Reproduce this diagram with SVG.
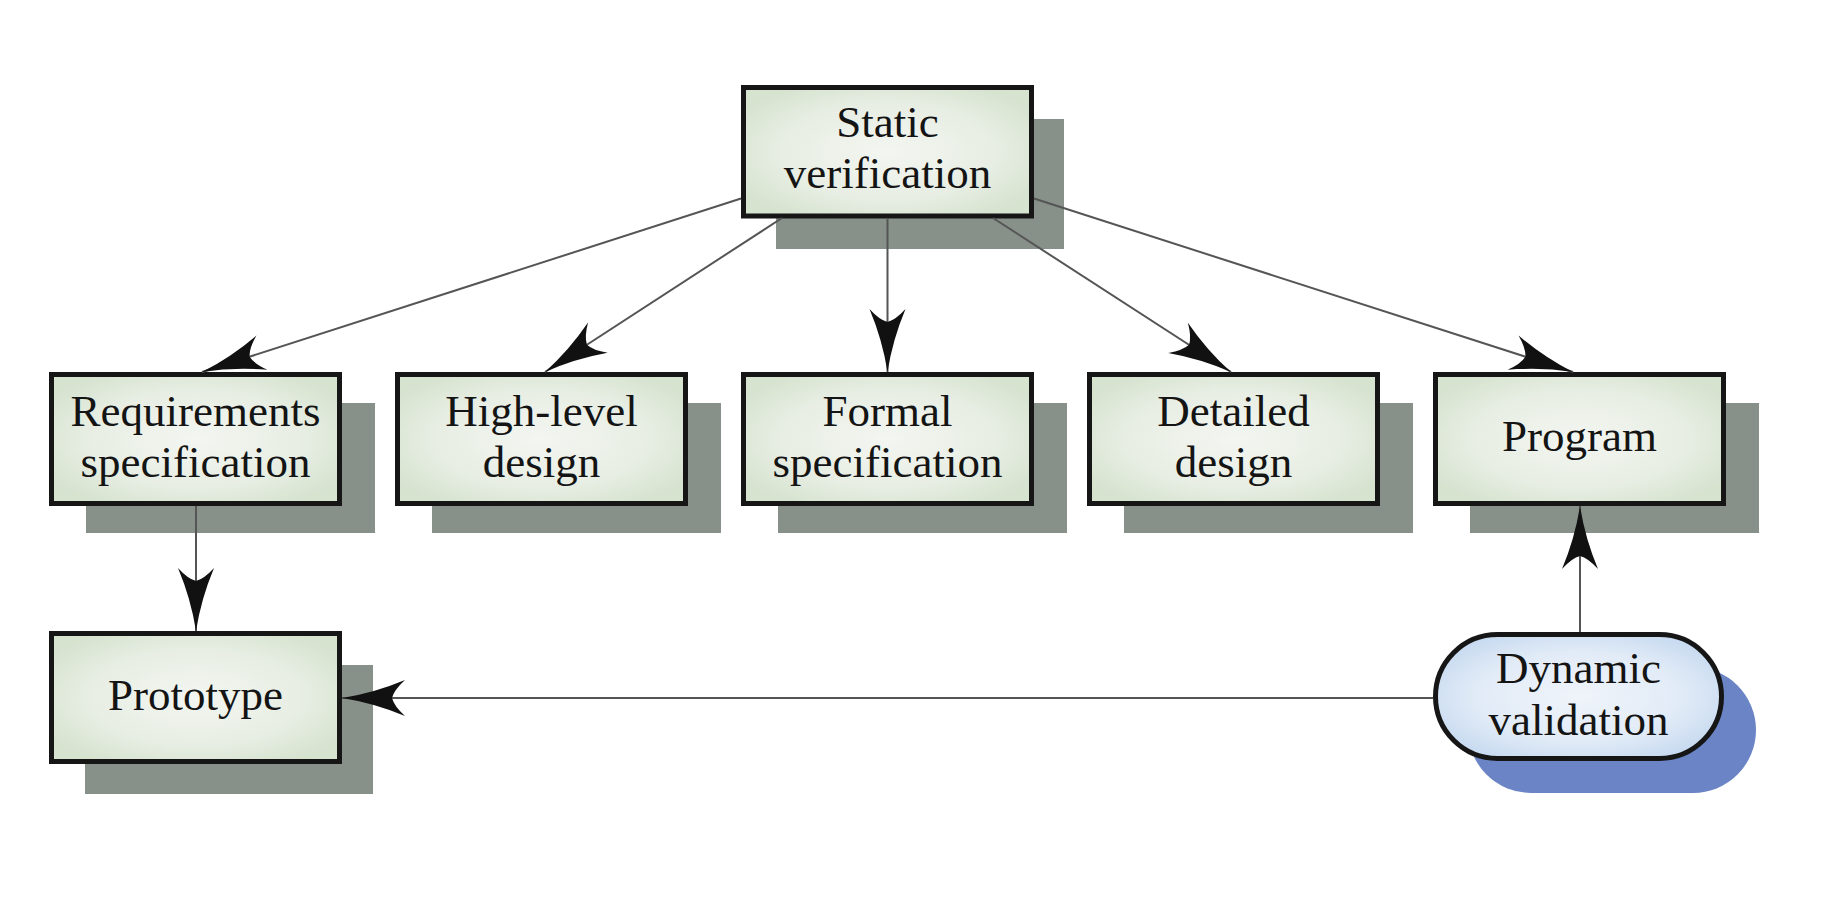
<svg xmlns="http://www.w3.org/2000/svg" width="1831" height="897" viewBox="0 0 1831 897">
<style>
.box{fill:url(#gGreen);stroke:#161616;stroke-width:5}
.pill{fill:url(#gBlue);stroke:#161616;stroke-width:5}
.sh{fill:#879089}
.shb{fill:#6a84c6}
.t{font-family:"Liberation Serif","Times New Roman",serif;font-size:45px;fill:#141414;text-anchor:middle}
.c{fill:none;stroke:#555;stroke-width:2;marker-end:url(#ah)}
</style>
<defs>
<radialGradient id="gGreen" cx="0.5" cy="0.5" r="0.6">
<stop offset="0" stop-color="#f3f6f1"/>
<stop offset="0.6" stop-color="#e8eee4"/>
<stop offset="1" stop-color="#d6e3cf"/>
</radialGradient>
<radialGradient id="gBlue" cx="0.5" cy="0.5" r="0.6">
<stop offset="0" stop-color="#f0f4fa"/>
<stop offset="0.6" stop-color="#e1ebf7"/>
<stop offset="1" stop-color="#c4d8ef"/>
</radialGradient>
<marker id="ah" markerUnits="userSpaceOnUse" markerWidth="70" markerHeight="40" viewBox="-66 -20 70 40" refX="0" refY="0" orient="auto" overflow="visible">
<path d="M0,0 Q-32,-5 -63,-18 Q-52,-8 -50,0 Q-52,8 -63,18 Q-32,5 0,0Z" fill="#111"/>
</marker>
</defs>
<rect width="1831" height="897" fill="#fff"/>

<g id="static">
<rect class="sh" x="776" y="119" width="288" height="130"/>
<rect class="box" x="743.5" y="87.5" width="288" height="128.5"/>
<text class="t" x="887.5" y="137">Static</text>
<text class="t" x="887.5" y="188">verification</text>
</g>

<g id="requirements">
<rect class="sh" x="86" y="403" width="289" height="130"/>
<rect class="box" x="51.5" y="374.5" width="288" height="129"/>
<text class="t" x="195.5" y="426">Requirements</text>
<text class="t" x="195.5" y="477">specification</text>
</g>

<g id="highlevel">
<rect class="sh" x="432" y="403" width="289" height="130"/>
<rect class="box" x="397.5" y="374.5" width="288" height="129"/>
<text class="t" x="541.5" y="426">High-level</text>
<text class="t" x="541.5" y="477">design</text>
</g>

<g id="formal">
<rect class="sh" x="778" y="403" width="289" height="130"/>
<rect class="box" x="743.5" y="374.5" width="288" height="129"/>
<text class="t" x="887.5" y="426">Formal</text>
<text class="t" x="887.5" y="477">specification</text>
</g>

<g id="detailed">
<rect class="sh" x="1124" y="403" width="289" height="130"/>
<rect class="box" x="1089.5" y="374.5" width="288" height="129"/>
<text class="t" x="1233.5" y="426">Detailed</text>
<text class="t" x="1233.5" y="477">design</text>
</g>

<g id="program">
<rect class="sh" x="1470" y="403" width="289" height="130"/>
<rect class="box" x="1435.5" y="374.5" width="288" height="129"/>
<text class="t" x="1579.5" y="451">Program</text>
</g>

<g id="prototype">
<rect class="sh" x="85" y="665" width="288" height="129"/>
<rect class="box" x="51.5" y="633.5" width="288" height="128"/>
<text class="t" x="195.5" y="710">Prototype</text>
</g>

<g id="dynamic">
<rect class="shb" x="1468" y="667" width="288" height="126" rx="63" ry="63"/>
<rect class="pill" x="1435.5" y="634.5" width="286" height="124" rx="62" ry="62"/>
<text class="t" x="1578.5" y="683">Dynamic</text>
<text class="t" x="1578.5" y="735">validation</text>
</g>

<g id="connectors">
<line class="c" x1="741" y1="198.5" x2="202" y2="372"/>
<line class="c" x1="782" y1="218" x2="545" y2="372"/>
<line class="c" x1="887.5" y1="218" x2="887.5" y2="372"/>
<line class="c" x1="993" y1="218" x2="1231" y2="372"/>
<line class="c" x1="1034" y1="198.5" x2="1573" y2="372"/>
<line class="c" x1="196" y1="506" x2="196" y2="631"/>
<line class="c" x1="1580" y1="632" x2="1580" y2="506"/>
<line class="c" x1="1433" y1="698" x2="342" y2="698"/>
</g>
</svg>
